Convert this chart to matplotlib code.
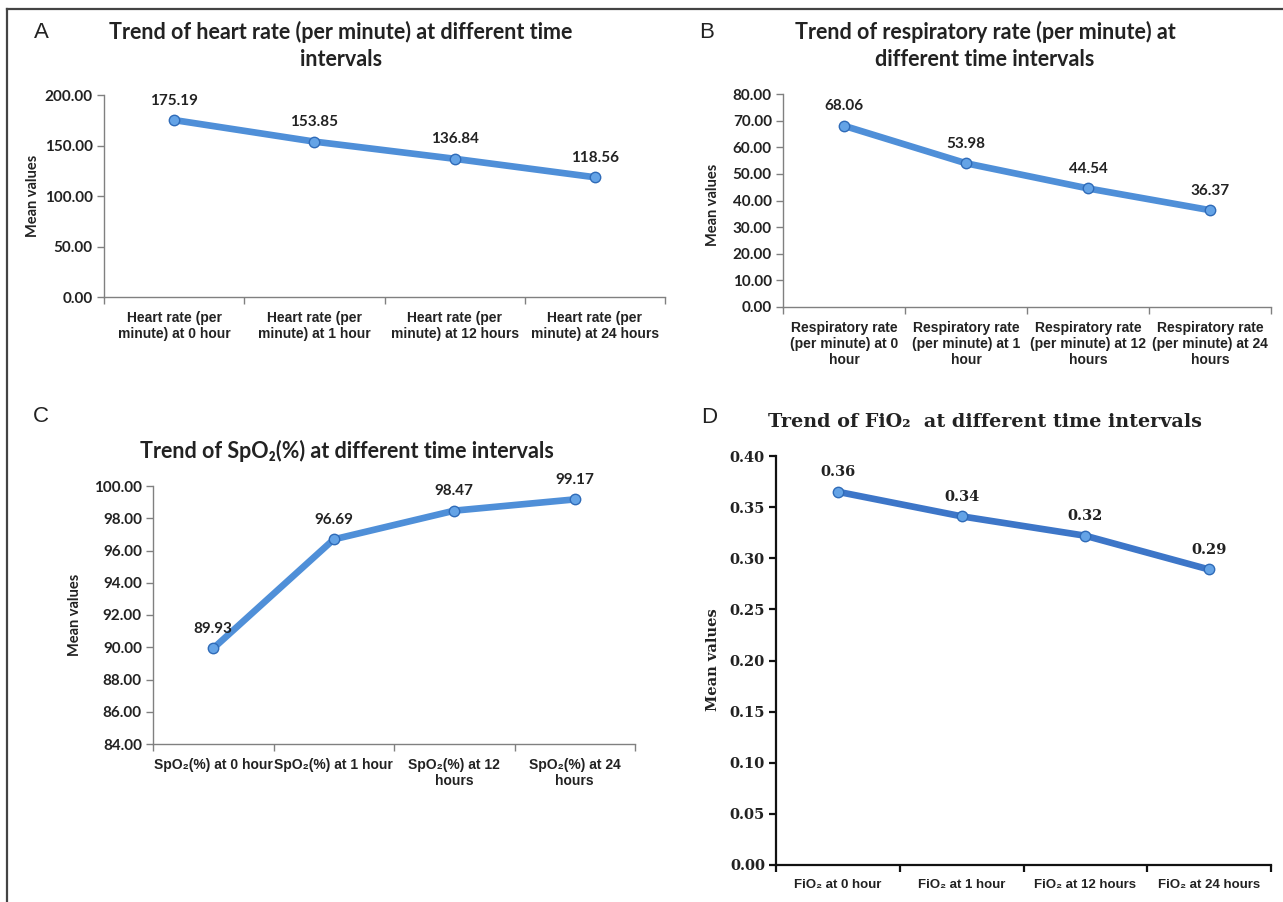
"""Four-panel trend figure: HR, RR, SpO2 and FiO2 means at 0/1/12/24 hours."""

import matplotlib

matplotlib.use("Agg")
import matplotlib.pyplot as plt
from matplotlib.lines import Line2D

W, H = 1283, 902

# data
hr_labels = ["Heart rate (per\nminute) at 0 hour", "Heart rate (per\nminute) at 1 hour",
             "Heart rate (per\nminute) at 12 hours", "Heart rate (per\nminute) at 24 hours"]
hr_values = [175.19, 153.85, 136.84, 118.56]

rr_labels = ["Respiratory rate\n(per minute) at 0\nhour", "Respiratory rate\n(per minute) at 1\nhour",
             "Respiratory rate\n(per minute) at 12\nhours", "Respiratory rate\n(per minute) at 24\nhours"]
rr_values = [68.06, 53.98, 44.54, 36.37]

spo2_labels = ["SpO₂(%) at 0 hour", "SpO₂(%) at 1 hour",
               "SpO₂(%) at 12\nhours", "SpO₂(%) at 24\nhours"]
spo2_values = [89.93, 96.69, 98.47, 99.17]

fio2_labels = ["FiO₂ at 0 hour", "FiO₂ at 1 hour", "FiO₂ at 12 hours", "FiO₂ at 24 hours"]
fio2_values = [0.365, 0.341, 0.322, 0.289]
fio2_text = ["0.36", "0.34", "0.32", "0.29"]

SANS = ["Lato", "DejaVu Sans"]
NARROW = ["Liberation Sans Narrow", "Liberation Sans", "DejaVu Sans"]
SERIF = ["DejaVu Serif"]
LINE = "#4f8fd8"
INK = "#222222"

fig = plt.figure(figsize=(W / 100, H / 100), dpi=100)


def rect(x0, x1, ytop, ybot):
    return [x0 / W, 1 - ybot / H, (x1 - x0) / W, (ybot - ytop) / H]


def ftext(x, y, s, **kw):
    fig.text(x / W, 1 - y / H, s, ha="center", va="center", color=INK, **kw)


def panel(box, labels, values, texts, ylim, yticks, fmt, tick_font, tick_size,
          spine_col, spine_w, line_col, xlab_size):
    ax = fig.add_axes(box)
    x = [i + 0.5 for i in range(len(values))]
    ax.plot(x, values, color=line_col, lw=4.8, solid_capstyle="round", zorder=2)
    ax.plot(x, values, ls="none", marker="o", ms=7.5, mfc="#64a3e6",
            mec="#2f6bb8", mew=1, zorder=3)
    for xi, v, t in zip(x, values, texts):
        ax.annotate(t, (xi, v), xytext=(0, 9), textcoords="offset points",
                    ha="center", va="bottom", fontsize=tick_size,
                    fontweight="bold", family=tick_font, color=INK)
    ax.set_xlim(0, len(values))
    ax.set_ylim(*ylim)
    ax.set_yticks(yticks)
    ax.set_yticklabels([fmt.format(t) for t in yticks], family=tick_font,
                       fontsize=tick_size, fontweight="bold", color=INK)
    ax.set_xticks(range(len(values) + 1))
    ax.set_xticklabels([])
    ax.set_xticks(x, minor=True)
    ax.set_xticklabels(labels, minor=True, family=NARROW, fontsize=xlab_size,
                       fontweight="bold", color=INK, linespacing=1.2)
    ax.tick_params(axis="x", which="major", length=5, color=spine_col, width=spine_w)
    ax.tick_params(axis="x", which="minor", length=0, pad=10)
    ax.tick_params(axis="y", length=5, color=spine_col, width=spine_w, pad=3)
    for s in ("top", "right"):
        ax.spines[s].set_visible(False)
    for s in ("left", "bottom"):
        ax.spines[s].set_color(spine_col)
        ax.spines[s].set_linewidth(spine_w)
    ax.patch.set_alpha(0)
    return ax


# A
panel(rect(104, 665, 95, 297), hr_labels, hr_values, [f"{v:.2f}" for v in hr_values],
      (0, 200), [0, 50, 100, 150, 200], "{:.2f}", SANS, 11, "#808080", 1.0, LINE, 10)
ftext(41, 32, "A", fontsize=16, family="Liberation Sans")
ftext(341, 32, "Trend of heart rate (per minute) at different time", fontsize=15.5,
      fontweight="bold", family=SANS)
ftext(341, 60, "intervals", fontsize=15.5, fontweight="bold", family=SANS)
ftext(33, 196, "Mean values", fontsize=10.5, fontweight="bold", family=SANS, rotation=90)

# B
panel(rect(783, 1271, 94, 307), rr_labels, rr_values, [f"{v:.2f}" for v in rr_values],
      (0, 80), list(range(0, 81, 10)), "{:.2f}", SANS, 11, "#808080", 1.0, LINE, 10)
ftext(707, 32, "B", fontsize=16, family="Liberation Sans")
ftext(985, 32, "Trend of respiratory rate (per minute) at", fontsize=15.5,
      fontweight="bold", family=SANS)
ftext(985, 60, "different time intervals", fontsize=15.5, fontweight="bold", family=SANS)
ftext(713, 205, "Mean values", fontsize=10.5, fontweight="bold", family=SANS, rotation=90)

# C
panel(rect(153, 635, 486, 744), spo2_labels, spo2_values, [f"{v:.2f}" for v in spo2_values],
      (84, 100), list(range(84, 101, 2)), "{:.2f}", SANS, 11, "#808080", 1.0, LINE, 10)
ftext(41, 417, "C", fontsize=16, family="Liberation Sans")
ftext(347, 451, "Trend of SpO₂(%) at different time intervals", fontsize=15.5,
      fontweight="bold", family=SANS)
ftext(75, 615, "Mean values", fontsize=10.5, fontweight="bold", family=SANS, rotation=90)

# D
panel(rect(776, 1271, 456, 865), fio2_labels, fio2_values, fio2_text,
      (0, 0.4), [0, 0.05, 0.1, 0.15, 0.2, 0.25, 0.3, 0.35, 0.4], "{:.2f}", SERIF, 10.5,
      "#111111", 1.6, "#3d76c8", 9.5)
ftext(709, 418, "D", fontsize=16, family="Liberation Sans")
ftext(985, 422, "Trend of FiO₂  at different time intervals", fontsize=13.8,
      fontweight="bold", family=SERIF)
ftext(713, 660, "Mean values", fontsize=10.5, fontweight="bold", family=SERIF, rotation=90)

# outer frame (only the top and left edges fall inside the crop)
fig.add_artist(Line2D([7 / W, 1], [1 - 9 / H, 1 - 9 / H], transform=fig.transFigure,
                      color="#444444", lw=1.6))
fig.add_artist(Line2D([7 / W, 7 / W], [0, 1 - 9 / H], transform=fig.transFigure,
                      color="#444444", lw=1.6))

fig.savefig("out.png", dpi=100, facecolor="white")
